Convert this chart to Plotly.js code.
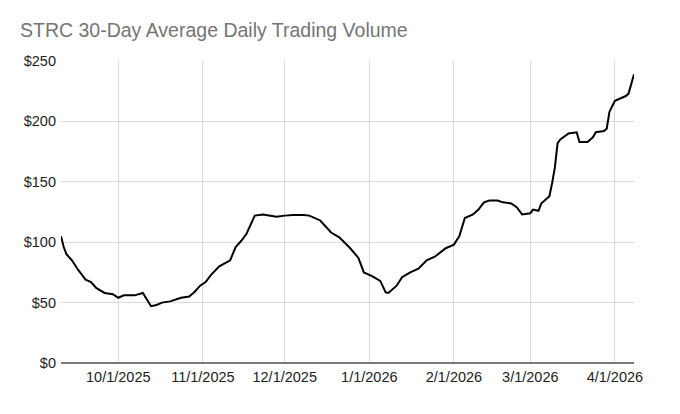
<!DOCTYPE html>
<html>
<head>
<meta charset="utf-8">
<script src="https://cdn.plot.ly/plotly-3.0.1.min.js"></script>
<style>
  html, body { margin: 0; padding: 0; background: #fff; }
  #chart { width: 680px; height: 414px; }
</style>
</head>
<body>
<div id="chart"></div>
<script>
// values
var dates = [
  '2025-09-10', '2025-09-11', '2025-09-12', '2025-09-14', '2025-09-16', '2025-09-19',
  '2025-09-21', '2025-09-23', '2025-09-26', '2025-09-29', '2025-10-01', '2025-10-03',
  '2025-10-07', '2025-10-10', '2025-10-13', '2025-10-15', '2025-10-17', '2025-10-20',
  '2025-10-24', '2025-10-27', '2025-10-29', '2025-10-31', '2025-11-02', '2025-11-04',
  '2025-11-07', '2025-11-11', '2025-11-13', '2025-11-15', '2025-11-17', '2025-11-20',
  '2025-11-23', '2025-11-28', '2025-12-01', '2025-12-04', '2025-12-08', '2025-12-10',
  '2025-12-14', '2025-12-18', '2025-12-21', '2025-12-25', '2025-12-28', '2025-12-30',
  '2026-01-02', '2026-01-05', '2026-01-07', '2026-01-08', '2026-01-11', '2026-01-13',
  '2026-01-16', '2026-01-19', '2026-01-22', '2026-01-25', '2026-01-29', '2026-02-01',
  '2026-02-03', '2026-02-05', '2026-02-08', '2026-02-10', '2026-02-12', '2026-02-14',
  '2026-02-17', '2026-02-19', '2026-02-22', '2026-02-24', '2026-02-26', '2026-03-01',
  '2026-03-02', '2026-03-04', '2026-03-05', '2026-03-08', '2026-03-09', '2026-03-10',
  '2026-03-11', '2026-03-12', '2026-03-15', '2026-03-18', '2026-03-19', '2026-03-22',
  '2026-03-24', '2026-03-25', '2026-03-28', '2026-03-29', '2026-03-30', '2026-04-01',
  '2026-04-05', '2026-04-06', '2026-04-08'
];

var volume = [
  105, 96, 90, 85, 78, 69,
  67, 62, 58, 57, 54, 56,
  56, 58, 47, 48, 50, 51,
  54, 55, 59, 64, 67, 73,
  80, 85, 96, 101, 107, 122,
  123, 121, 122, 122.5, 122.5, 122,
  118, 108, 104, 95, 87, 75,
  72, 68, 58.5, 58, 64, 71,
  75, 78, 85, 88, 95, 98,
  105, 120, 123, 127, 133, 134.5,
  134.5, 133, 132, 129, 123, 124,
  127, 126, 132, 138, 149, 162,
  182, 185, 190, 191, 183, 183,
  187, 191, 192, 194, 208, 217,
  221, 223, 239
];

var monthTicks = ['2025-10-01', '2025-11-01', '2025-12-01', '2026-01-01', '2026-02-01', '2026-03-01', '2026-04-01'];
var monthLabels = ['10/1/2025', '11/1/2025', '12/1/2025', '1/1/2026', '2/1/2026', '3/1/2026', '4/1/2026'];

var yTicks = [0, 50, 100, 150, 200, 250];
var yLabels = ['$0', '$50', '$100', '$150', '$200', '$250'];

var trace = {
  x: dates,
  y: volume,
  type: 'scatter',
  mode: 'lines',
  line: { color: '#000000', width: 2 },
  hoverinfo: 'x+y'
};

var layout = {
  width: 680,
  height: 414,
  margin: { l: 61, r: 46, t: 61, b: 51 },
  paper_bgcolor: '#ffffff',
  plot_bgcolor: '#ffffff',
  font: { family: 'Liberation Sans, Arial, sans-serif', size: 14.5, color: '#222222' },
  title: {
    text: 'STRC 30-Day Average Daily Trading Volume',
    font: { family: 'Liberation Sans, Arial, sans-serif', size: 19.5, color: '#757575' },
    xref: 'container',
    yref: 'container',
    x: 20 / 680,
    xanchor: 'left',
    y: 1 - 30 / 414,
    yanchor: 'middle'
  },
  xaxis: {
    type: 'date',
    range: ['2025-09-10', '2026-04-08'],
    tickmode: 'array',
    tickvals: monthTicks,
    ticktext: monthLabels,
    showgrid: true,
    gridcolor: '#d9d9d9',
    gridwidth: 1,
    zeroline: false,
    showline: false,
    ticks: '',
    ticklabelstandoff: 3,
    tickfont: { size: 14.5, color: '#222222' }
  },
  yaxis: {
    range: [0, 250],
    tickmode: 'array',
    tickvals: yTicks,
    ticktext: yLabels,
    showgrid: true,
    gridcolor: '#d9d9d9',
    gridwidth: 1,
    zeroline: true,
    zerolinecolor: '#7a7a7a',
    zerolinewidth: 2,
    showline: false,
    ticks: '',
    ticklabelstandoff: 4,
    tickfont: { size: 14.5, color: '#222222' }
  },
  showlegend: false
};

Plotly.newPlot('chart', [trace], layout, { displayModeBar: false, staticPlot: true });
</script>
</body>
</html>
